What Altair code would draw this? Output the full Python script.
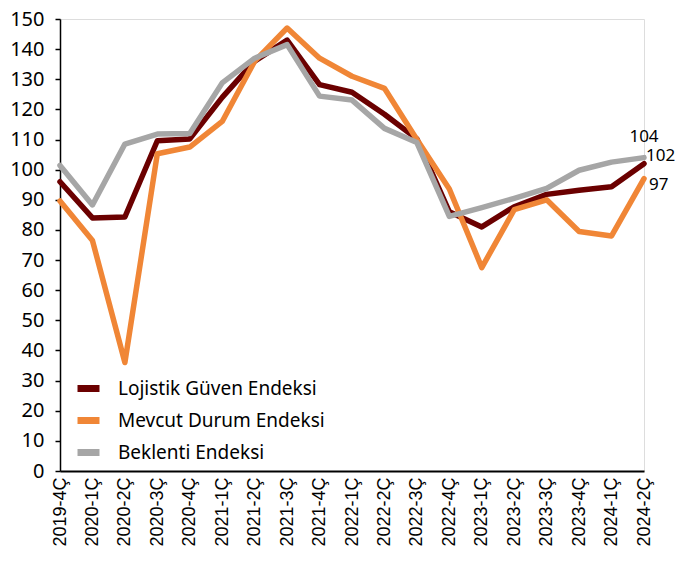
import altair as alt
import pandas as pd

quarters = ["2019-4Ç", "2020-1Ç", "2020-2Ç", "2020-3Ç", "2020-4Ç", "2021-1Ç", "2021-2Ç",
            "2021-3Ç", "2021-4Ç", "2022-1Ç", "2022-2Ç", "2022-3Ç", "2022-4Ç", "2023-1Ç",
            "2023-2Ç", "2023-3Ç", "2023-4Ç", "2024-1Ç", "2024-2Ç"]
lojistik = [96, 84, 84.3, 109.6, 110.2, 124, 136, 143, 128.2, 125.7, 118.4, 110.2, 86,
            81, 87.7, 91.8, 93.2, 94.3, 102]
mevcut = [89.6, 76.5, 36, 105.3, 107.5, 116, 136, 147, 137, 131, 127, 110, 93.6,
          67.5, 86.7, 90, 79.5, 78, 97]
beklenti = [101.4, 88.3, 108.5, 111.8, 112, 128.8, 137, 141.5, 124.4, 123.1, 113.7, 109,
            84.5, 87.4, 90.5, 93.8, 99.8, 102.5, 104]
series = ["Lojistik Güven Endeksi", "Mevcut Durum Endeksi", "Beklenti Endeksi"]
colors = ["#6B0000", "#F08636", "#A6A6A6"]
y_ticks = list(range(0, 151, 10))

rows = []
for name, vals in zip(series, [lojistik, mevcut, beklenti]):
    for q, v in zip(quarters, vals):
        rows.append({"Çeyrek": q, "Seri": name, "Değer": v})
df = pd.DataFrame(rows)

x_enc = alt.X("Çeyrek:N", sort=quarters,
              scale=alt.Scale(type="point", padding=0),
              axis=alt.Axis(title=None, labelAngle=-90, labelFont="Liberation Sans",
                            labelFontSize=18, labelColor="black", ticks=False,
                            labelPadding=6, domainColor="black", domainWidth=2,
                            labelBaseline="middle", labelAlign="right",
                            labelOverlap=False))
y_enc = alt.Y("Değer:Q", scale=alt.Scale(domain=[0, 150], nice=False, zero=True),
              axis=alt.Axis(title=None, values=y_ticks, grid=False, labelFont="Noto Sans",
                            labelFontSize=20, labelColor="black", tickColor="black",
                            tickSize=5, labelPadding=11, domainColor="black",
                            domainWidth=1.5, tickWidth=1.5, labelOverlap=False))

lines = alt.Chart(df).mark_line(strokeWidth=5.5, strokeJoin="round", strokeCap="round").encode(
    x=x_enc,
    y=y_enc,
    color=alt.Color("Seri:N", sort=series,
                    scale=alt.Scale(domain=series, range=colors),
                    legend=alt.Legend(title=None, orient="none", legendX=14, legendY=355,
                                      symbolType="stroke", symbolStrokeWidth=7,
                                      symbolSize=484, labelFont="Noto Sans",
                                      labelFontSize=19, labelColor="black",
                                      labelOffset=15, rowPadding=3, padding=0,
                                      labelLimit=400)),
)

last = quarters[-1]
lab_df = pd.DataFrame([
    {"Çeyrek": last, "Değer": beklenti[-1], "t": str(round(beklenti[-1]))},
    {"Çeyrek": last, "Değer": lojistik[-1], "t": str(round(lojistik[-1]))},
    {"Çeyrek": last, "Değer": mevcut[-1], "t": str(round(mevcut[-1]))},
])

def text_layer(idx, **kw):
    return alt.Chart(lab_df.iloc[[idx]]).mark_text(
        font="Noto Sans", fontSize=17, color="black", baseline="middle", **kw
    ).encode(x=x_enc, y=y_enc, text="t:N")

t1 = text_layer(0, align="center", dy=-21)
t2 = text_layer(1, align="left", dx=2, dy=-8)
t3 = text_layer(2, align="left", dx=5, dy=6)

chart = alt.layer(lines, t1, t2, t3).properties(
    width=584, height=452,
    autosize=alt.AutoSizeParams(type="none"),
    padding={"left": 52, "top": 11, "right": 32, "bottom": 78},
).configure_view(stroke=None).configure(background="white")

chart.save("out.html", embed_options={"renderer": "svg", "actions": False})
